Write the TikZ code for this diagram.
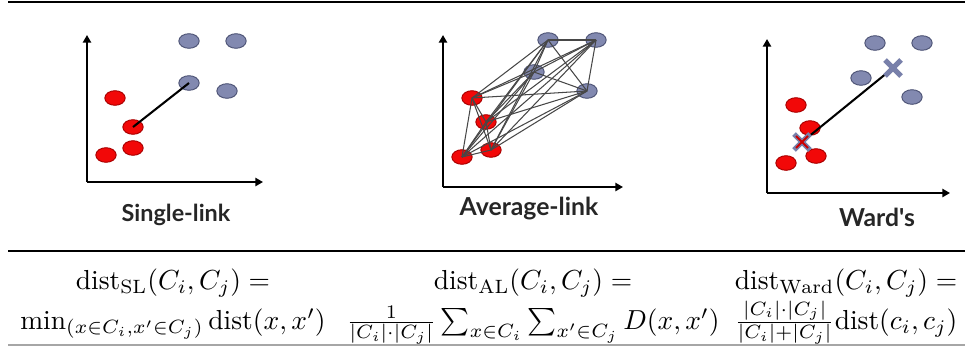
\documentclass[tikz,border=0pt]{standalone}
\usepackage{amsmath}
\usepackage{fontspec}
\newfontfamily\labelfont{Lato}
\usetikzlibrary{arrows.meta,shapes.geometric}
\definecolor{dotblue}{RGB}{130,137,176}
\definecolor{dotblueedge}{RGB}{78,84,118}
\definecolor{dotred}{RGB}{242,8,8}
\definecolor{dotrededge}{RGB}{170,0,0}
\definecolor{crossblue}{RGB}{120,128,170}
\tikzset{
  axisline/.style={line width=0.9pt,-{Triangle[length=2.8pt,width=3pt]}},
  bdot/.style={ellipse,draw=dotblueedge,fill=dotblue,line width=0.35pt,inner sep=0pt,minimum width=7.4pt,minimum height=5.3pt},
  rdot/.style={ellipse,draw=dotrededge,fill=dotred,line width=0.35pt,inner sep=0pt,minimum width=7.4pt,minimum height=5.3pt},
  link/.style={draw=black!72,line width=0.38pt},
  mainlink/.style={draw=black,line width=0.75pt},
  plabel/.style={font=\labelfont\bfseries\fontsize{9}{10}\selectfont,text=black!85,anchor=base},
  cell/.style={anchor=base,inner sep=0pt},
  toprulestyle/.style={line width=0.75pt},
  midrulestyle/.style={line width=0.5pt},
  botrulestyle/.style={line width=0.4pt,draw=black!35}
}
\begin{document}
\begin{tikzpicture}[x=0.3636pt,y=-0.3636pt]
\useasboundingbox (0,0) rectangle (965,347);
% rules
\coordinate (t1) at (8,2); \coordinate (t2) at (965,2);
\coordinate (m1) at (8,251); \coordinate (m2) at (965,251);
\coordinate (b1) at (8,345); \coordinate (b2) at (965,345);
\draw[toprulestyle] (t1) -- (t2);
\draw[midrulestyle] (m1) -- (m2);
\draw[botrulestyle] (b1) -- (b2);

% ---------- Panel 1: single link
\coordinate (o1) at (87,182); \coordinate (y1) at (87,35); \coordinate (x1) at (263,182);
\draw[axisline] (o1) -- (y1);
\draw[axisline] (o1) -- (x1);
\node[bdot] (s1) at (189,41) {};
\node[bdot] (s2) at (236,41) {};
\node[bdot] (s3) at (189,83) {};
\node[bdot] (s4) at (227,91) {};
\node[rdot] (s5) at (115,98) {};
\node[rdot] (s6) at (133,127) {};
\node[rdot] (s7) at (133,148) {};
\node[rdot] (s8) at (106,155) {};
\draw[mainlink] (s6.center) -- (s3.center);
\node[plabel,font=\labelfont\bfseries\fontsize{8.5}{9}\selectfont] (lab1) at (176,221) {Single-link};

% ---------- Panel 2: average link
\coordinate (o2) at (443,187); \coordinate (y2) at (443,35); \coordinate (x2) at (623,187);
\draw[axisline] (o2) -- (y2);
\draw[axisline] (o2) -- (x2);
\node[bdot] (a1) at (548,40) {};
\node[bdot] (a2) at (596,40) {};
\node[bdot] (a3) at (534,72) {};
\node[bdot] (a4) at (587,91) {};
\node[rdot] (a5) at (472,98) {};
\node[rdot] (a6) at (486,122) {};
\node[rdot] (a7) at (491,150) {};
\node[rdot] (a8) at (462,157) {};
\foreach \i in {1,...,7}{
  \pgfmathtruncatemacro\jstart{\i+1}
  \foreach \j in {\jstart,...,8}{
    \draw[link] (a\i.center) -- (a\j.center);
  }
}
\node[plabel] (lab2) at (529,215) {Average-link};

% ---------- Panel 3: Ward
\coordinate (o3) at (767,193); \coordinate (y3) at (767,39); \coordinate (x3) at (950,193);
\draw[axisline] (o3) -- (y3);
\draw[axisline] (o3) -- (x3);
\node[bdot] (w1) at (875,43) {};
\node[bdot] (w2) at (922,43) {};
\node[bdot] (w3) at (861,78) {};
\node[bdot] (w4) at (912,97) {};
\node[rdot] (w5) at (796,105) {};
\node[rdot] (w6) at (810,128) {};
\node[rdot] (w7) at (816,156) {};
\node[rdot] (w8) at (786,163) {};
\coordinate (cb) at (893,68);
\coordinate (cr) at (802,142);
\draw[mainlink] (cr) -- (cb);
\draw[crossblue,line width=1.9pt] ([shift={(-8,-8)}]cb) -- ([shift={(8,8)}]cb) ([shift={(-8,8)}]cb) -- ([shift={(8,-8)}]cb);
\draw[crossblue,line width=1.9pt] ([shift={(-8,-8)}]cr) -- ([shift={(8,8)}]cr) ([shift={(-8,8)}]cr) -- ([shift={(8,-8)}]cr);
\draw[red!80!black,line width=0.7pt] ([shift={(-6,-6)}]cr) -- ([shift={(6,6)}]cr) ([shift={(-6,6)}]cr) -- ([shift={(6,-6)}]cr);
\node[plabel] (lab3) at (877,226) {Ward's};

% ---------- formulas
\node[cell] (f11) at (173,289) {$\mathrm{dist}_{\mathrm{SL}}(C_i,C_j) =$};
\node[cell] (f12) at (173,329) {$\min_{(x\in C_i,x'\in C_j)}\mathrm{dist}(x,x')$};
\node[cell] (f21) at (533,289) {$\mathrm{dist}_{\mathrm{AL}}(C_i,C_j) =$};
\node[cell] (f22) at (533,329) {$\frac{1}{|C_i|\cdot|C_j|}\sum_{x\in C_i}\sum_{x'\in C_j} D(x,x')$};
\node[cell] (f31) at (846,289) {$\mathrm{dist}_{\mathrm{Ward}}(C_i,C_j) =$};
\node[cell] (f32) at (846,329) {$\frac{|C_i|\cdot|C_j|}{|C_i|+|C_j|}\mathrm{dist}(c_i,c_j)$};
\end{tikzpicture}
\end{document}
